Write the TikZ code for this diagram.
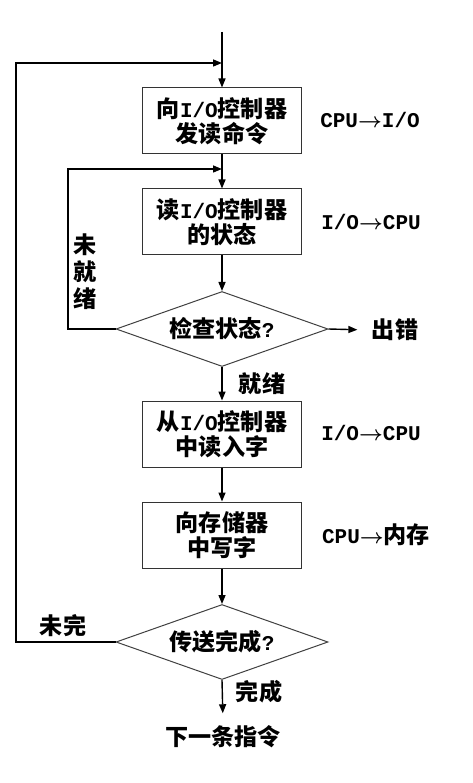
\documentclass[tikz,border=0pt]{standalone}
\usepackage{fontspec}
\setmainfont{Liberation Mono}
\newfontfamily\zhfont[Scale=1.1]{Noto Sans CJK SC}
\newcommand{\zh}[1]{{\zhfont #1}}
\usetikzlibrary{arrows.meta,shapes.geometric}

\begin{document}
\begin{tikzpicture}[x=1pt, y=-1pt,
    >={Triangle[length=9pt,width=7pt]},
    every node/.style={font=\bfseries\boldmath\fontsize{21}{25}\selectfont},
    box/.style={draw=black!80, line width=1pt, minimum width=159pt, minimum height=66pt, inner sep=0pt, align=center},
    test/.style={draw=black!75, line width=1pt, diamond, aspect=2.8, minimum width=212pt, minimum height=75pt, inner sep=0pt},
    flow/.style={line width=1.4pt, ->}]
    \useasboundingbox (0,0) rectangle (473,783);
    % boxes:
    \node[box] (b1) at (222,121){\zh{向}I/O\zh{控制器}\\\zh{发读命令}};
    \node[box] (b2) at (222,222){\zh{读}I/O\zh{控制器}\\\zh{的状态}};
    \node[test] (d1) at (222,329){\zh{检查状态}?};
    \node[box] (b3) at (222,434){\zh{从}I/O\zh{控制器}\\\zh{中读入字}};
    \node[box] (b4) at (222,535){\zh{向存储器}\\\zh{中写字}};
    \node[test] (d2) at (222,642){\zh{传送完成}?};
    \node (next) at (223,737){\zh{下一条指令}};
    % labels:
    \node (r1) at (370,120){CPU$\rightarrow$I/O};
    \node (r2) at (371,222){I/O$\rightarrow$CPU};
    \node (r3) at (371,433){I/O$\rightarrow$CPU};
    \node (r4) at (376,535){CPU$\rightarrow$\zh{内存}};
    \node[align=center, font=\bfseries\fontsize{21}{27}\selectfont] (notready) at (85,272){\zh{未}\\\zh{就}\\\zh{绪}};
    \node (err) at (395,330){\zh{出错}};
    \node (ready) at (262,384){\zh{就绪}};
    \node (notdone) at (63,626){\zh{未完}};
    \node (done) at (259,692){\zh{完成}};
    % points:
    \coordinate (top) at (222,32);
    \coordinate (j1) at (222,63);
    \coordinate (j2) at (222,169);
    \coordinate (i1) at (68,329);
    \coordinate (o1) at (16,642);
    % lines:
    \draw[flow] (top) -- (b1);
    \draw[flow] (b1) -- (b2);
    \draw[flow] (b2) -- (d1);
    \draw[flow] (d1) -- (b3);
    \draw[flow] (b3) -- (b4);
    \draw[flow] (b4) -- (d2);
    \draw[flow, shorten >=9pt] (d2.south) -- (next.north);
    \draw[flow, shorten >=11pt] (d1.east) -- (err.west);
    \draw[flow] (d1.west) -- (i1) |- (j2);
    \draw[flow] (d2.west) -- (o1) |- (j1);
\end{tikzpicture}
\end{document}
